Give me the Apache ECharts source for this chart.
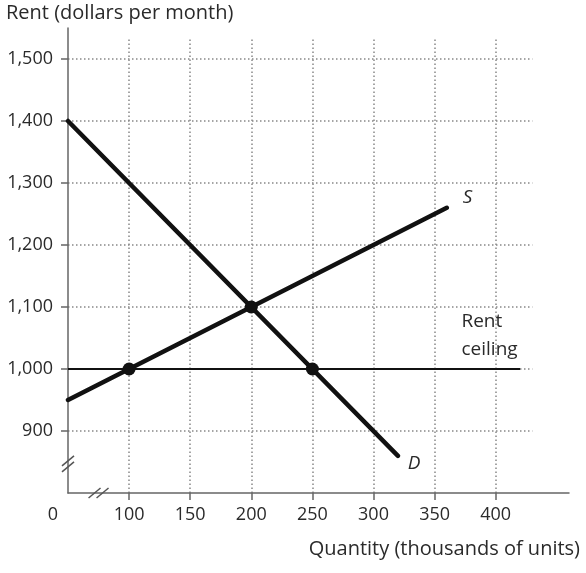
<!DOCTYPE html>
<html>
<head>
<meta charset="utf-8">
<script src="https://cdn.jsdelivr.net/npm/echarts@6/dist/echarts.min.js"></script>
<style>
html,body{margin:0;padding:0;background:#fff;}
#c{width:586px;height:573px;}
</style>
</head>
<body>
<div id="c"></div>
<script>
// ---- data ----
const supplyQ = [50, 360];
const supplyP = [950, 1260];
const demandQ = [50, 320];
const demandP = [1400, 860];
const ceilingQ = [50, 420];
const ceilingP = [1000, 1000];
const pointQ = [100, 200, 250];
const pointP = [1000, 1100, 1000];
const xTicks = [100, 150, 200, 250, 300, 350, 400];
const yTicks = [900, 1000, 1100, 1200, 1300, 1400, 1500];
const xOriginLabel = 50;   // drawn as "0" (broken axis)
const yOriginValue = 800;
const gridTopValue = 1533;
const gridRightValue = 430;
// label anchors (data coordinates)
const labelS = [373, 1276];
const labelD = [328, 847];
const labelRent = [372, 1077];
const labelCeiling = [372, 1032];
const breakY = 847;
const breakX = 75;

const FONT = '"Open Sans", Lato, sans-serif';
const TXT = '#2a2a2a';
const FS = 18;     // tick labels
const FN = 20;     // axis names
const FL = 19;     // in-plot labels

const chart = echarts.init(document.getElementById('c'));

const zip = (a, b) => a.map((v, i) => [v, b[i]]);

const gridLines = [];
xTicks.forEach(x => gridLines.push([{coord: [x, yOriginValue]}, {coord: [x, gridTopValue]}]));
yTicks.forEach(y => gridLines.push([{coord: [xOriginLabel, y]}, {coord: [gridRightValue, y]}]));

chart.setOption({
  animation: false,
  title: {
    text: 'Rent (dollars per month)',
    left: 1, top: -2,
    textStyle: {fontFamily: FONT, fontSize: FN, fontWeight: 'normal', color: TXT}
  },
  grid: {left: 68, right: 17, top: 28, bottom: 80},
  xAxis: {
    type: 'value', min: 50, max: 460,
    name: 'Quantity (thousands of units)',
    nameLocation: 'end', nameGap: 11,
    nameTextStyle: {fontFamily: FONT, fontSize: FN, color: TXT, align: 'right', verticalAlign: 'top', padding: [46, 0, 0, 0]},
    axisLine: {lineStyle: {color: '#666', width: 1.5}},
    axisTick: {show: true, length: 7, customValues: xTicks, lineStyle: {color: '#666', width: 1.5}},
    axisLabel: {
      customValues: [xOriginLabel].concat(xTicks), margin: 13,
      fontFamily: FONT, fontSize: FS, color: TXT,
      formatter: v => v === xOriginLabel ? '{z|0}' : String(v),
      rich: {z: {fontFamily: FONT, fontSize: FS, color: TXT, padding: [0, 30, 0, 0]}}
    },
    splitLine: {show: false}
  },
  yAxis: {
    type: 'value', min: 800, max: 1550,
    axisLine: {show: true, lineStyle: {color: '#666', width: 1.5}},
    axisTick: {show: true, length: 7, customValues: yTicks, lineStyle: {color: '#666', width: 1.5}},
    axisLabel: {
      customValues: yTicks, margin: 15,
      fontFamily: FONT, fontSize: FS, color: TXT,
      formatter: v => v.toLocaleString('en-US')
    },
    splitLine: {show: false}
  },
  series: [
    {
      type: 'line', data: [], silent: true, z: 0,
      markLine: {
        silent: true, symbol: 'none', animation: false, z: 0,
        label: {show: false},
        lineStyle: {color: '#888', width: 1.5, type: [1.5, 2.5]},
        data: gridLines
      }
    },
    {
      name: 'Rent ceiling', type: 'line', data: zip(ceilingQ, ceilingP),
      symbol: 'none', lineStyle: {color: '#111', width: 2}, z: 3
    },
    {
      name: 'S', type: 'line', data: zip(supplyQ, supplyP),
      symbol: 'none', lineStyle: {color: '#111', width: 4.5, cap: 'round'}, z: 4
    },
    {
      name: 'D', type: 'line', data: zip(demandQ, demandP),
      symbol: 'none', lineStyle: {color: '#111', width: 4.5, cap: 'round'}, z: 4
    },
    {
      type: 'scatter', data: zip(pointQ, pointP),
      symbolSize: 13, itemStyle: {color: '#111', opacity: 1}, z: 5
    }
  ]
});

function txt(pos, text, style) {
  const p = chart.convertToPixel({gridIndex: 0}, pos);
  return {type: 'text', x: p[0], y: p[1], z: 10, style: Object.assign({
    text: text, fill: TXT, font: FL + 'px ' + FONT, textAlign: 'left', textVerticalAlign: 'middle'
  }, style || {})};
}
function brk(cx, cy, dir) {
  const els = [];
  const off = dir === 'y' ? [[0, -3], [0, 3]] : [[-4, 0], [4, 0]];
  off.forEach(o => {
    els.push({type: 'line', z: 10, shape: {x1: cx + o[0] - 6, y1: cy + o[1] + 5, x2: cx + o[0] + 6, y2: cy + o[1] - 5},
      style: {stroke: '#555', lineWidth: 1.5}});
  });
  return els;
}
const py = chart.convertToPixel({gridIndex: 0}, [xOriginLabel, breakY]);
const px = chart.convertToPixel({gridIndex: 0}, [breakX, yOriginValue]);
chart.setOption({
  graphic: [
    txt(labelS, 'S', {font: 'italic ' + FL + 'px ' + FONT}),
    txt(labelD, 'D', {font: 'italic ' + FL + 'px ' + FONT}),
    txt(labelRent, 'Rent', {font: FL + 'px ' + FONT}),
    txt(labelCeiling, 'ceiling', {font: FL + 'px ' + FONT})
  ].concat(brk(py[0], py[1], 'y')).concat(brk(px[0], px[1], 'x'))
});
</script>
</body>
</html>
